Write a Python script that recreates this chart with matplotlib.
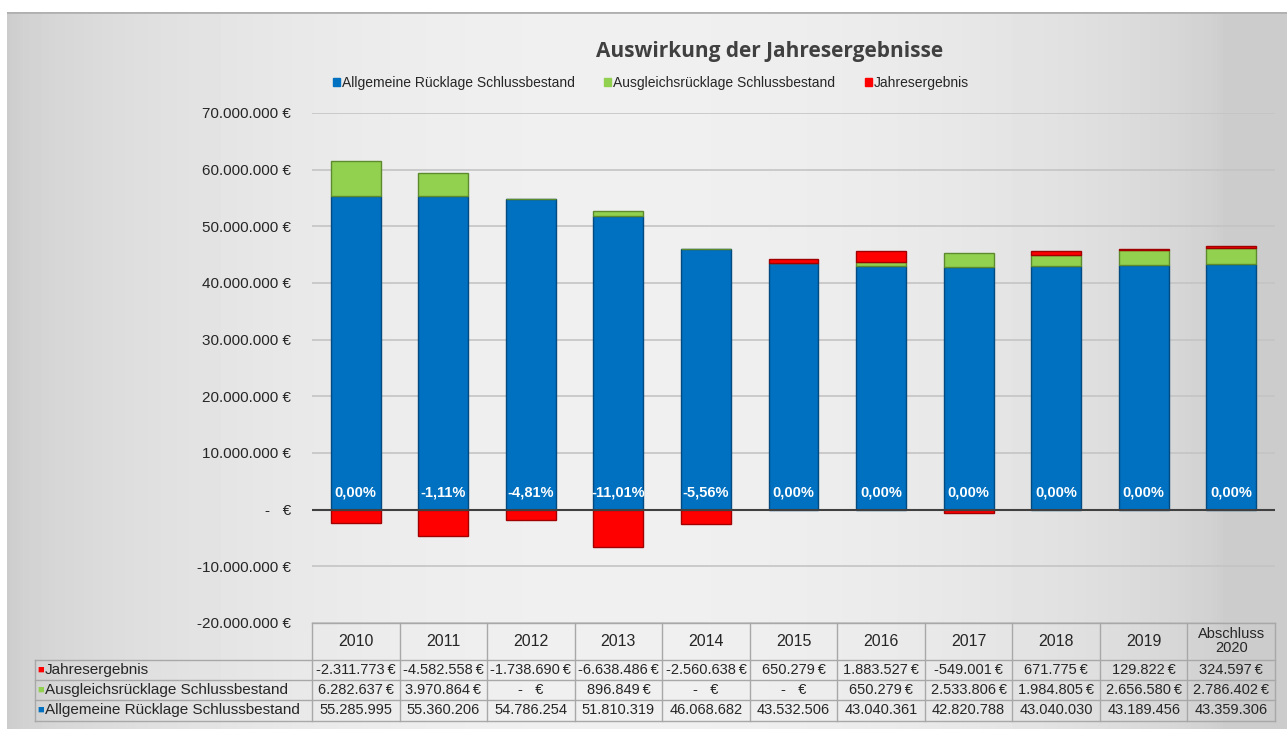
import numpy as np
import matplotlib.pyplot as plt
from matplotlib.patches import Patch
from matplotlib.lines import Line2D
from matplotlib.ticker import FuncFormatter, MultipleLocator

plt.rcParams['font.family'] = ['Liberation Sans', 'DejaVu Sans']

years = ['2010', '2011', '2012', '2013', '2014', '2015', '2016', '2017',
         '2018', '2019', 'Abschluss\n2020']
allgemeine = [55285995, 55360206, 54786254, 51810319, 46068682, 43532506,
              43040361, 42820788, 43040030, 43189456, 43359306]
ausgleich = [6282637, 3970864, 0, 896849, 0, 0,
             650279, 2533806, 1984805, 2656580, 2786402]
ergebnis = [-2311773, -4582558, -1738690, -6638486, -2560638, 650279,
            1883527, -549001, 671775, 129822, 324597]
prozent = ['0,00%', '-1,11%', '-4,81%', '-11,01%', '-5,56%', '0,00%',
           '0,00%', '0,00%', '0,00%', '0,00%', '0,00%']

BLUE, GREEN, RED = '#0070C0', '#92D050', '#FF0000'
W, H = 1287, 729


def de(v):
    return f'{v:,.0f}'.replace(',', '.')


def euro(v, sp=' '):
    return '-   €' if v == 0 else de(v) + sp + '€'


fig = plt.figure(figsize=(W / 100, H / 100), dpi=100)

# grey gradient background
bg = fig.add_axes([7 / W, 0, 1 - 7 / W, 1 - 12 / H], zorder=-10)
xs = np.linspace(0, 1, 400)
shade = 0.80 + 0.14 * np.sin(np.pi * np.clip(xs * 1.05, 0, 1)) ** 0.6
bg.imshow(np.tile(shade, (10, 1)), cmap='gray', vmin=0, vmax=1,
          aspect='auto', extent=[0, 1, 0, 1])
bg.axhline(1, color='#b0b0b0', lw=2)
bg.axis('off')

left, right = 312 / W, 1275 / W
ax = fig.add_axes([left, 1 - 623 / H, right - left, (623 - 113) / H])
ax.set_facecolor('none')
x = np.arange(len(years))
bw = 0.57

ax.bar(x, allgemeine, bw, color=BLUE, edgecolor='#034a80', lw=1, zorder=3)
base = np.array(allgemeine)
ax.bar(x, ausgleich, bw, bottom=base, color=GREEN, edgecolor='#5e8a2e', lw=1, zorder=3)
top = base + np.array(ausgleich)
erg = np.array(ergebnis)
ax.bar(x, erg, bw, bottom=np.where(erg > 0, top, 0), color=RED,
       edgecolor='#a00000', lw=1, zorder=3)

for i, p in enumerate(prozent):
    ax.annotate(p, (i, 0), xytext=(0, 7), textcoords='offset points',
                ha='center', va='bottom', color='white', fontsize=10.5,
                fontweight='bold', zorder=5)

ax.set_xlim(-0.5, len(years) - 0.5)
ax.set_ylim(-20e6, 70e6)
ax.yaxis.set_major_locator(MultipleLocator(10e6))
ax.yaxis.set_major_formatter(FuncFormatter(lambda v, p: euro(int(round(v)))))
ax.tick_params(axis='y', length=0, labelsize=11, pad=15, colors='#262626')
ax.set_xticks([])
ax.grid(axis='y', color='#c4c4c4', lw=1.2, zorder=0)
ax.axhline(0, color='#404040', lw=1.5, zorder=4)
for s in ax.spines.values():
    s.set_visible(False)

fig.text(770 / W, 1 - 51 / H, 'Auswirkung der Jahresergebnisse',
         ha='center', va='center', fontsize=15, fontweight='bold',
         color='#404040', family=['Open Sans', 'DejaVu Sans'])

handles = [Patch(color=BLUE, label='Allgemeine Rücklage Schlussbestand'),
           Patch(color=GREEN, label='Ausgleichsrücklage Schlussbestand'),
           Patch(color=RED, label='Jahresergebnis')]
fig.legend(handles=handles, loc='center', bbox_to_anchor=(651 / W, 1 - 83 / H),
           ncol=3, frameon=False, fontsize=10, handlelength=0.5,
           handleheight=0.5, handletextpad=0.15, columnspacing=2.1,
           labelcolor='#262626')

# data table below the chart
col_w = (1275 - 312) / len(years)
line_kw = dict(color='#a8a8a8', lw=1, transform=fig.transFigure)
rows_y = [623, 660, 680, 700, 721]
fig.add_artist(Line2D([left, right], [1 - 623 / H] * 2, **line_kw))
for py in rows_y[1:]:
    fig.add_artist(Line2D([35 / W, right], [1 - py / H] * 2, **line_kw))
for i in range(len(years) + 1):
    px = (312 + i * col_w) / W
    fig.add_artist(Line2D([px, px], [1 - 623 / H, 1 - 721 / H], **line_kw))
fig.add_artist(Line2D([35 / W, 35 / W], [1 - 660 / H, 1 - 721 / H], **line_kw))

row_data = [('Jahresergebnis', RED, [euro(v, '\u2009') for v in ergebnis]),
            ('Ausgleichsrücklage Schlussbestand', GREEN,
             [euro(v, '\u2009') for v in ausgleich]),
            ('Allgemeine Rücklage Schlussbestand', BLUE, [de(v) for v in allgemeine])]

for i, y in enumerate(years):
    cx = (312 + (i + 0.5) * col_w) / W
    fig.text(cx, 1 - 641 / H, y, ha='center', va='center',
             fontsize=11.5 if '\n' not in y else 10.5,
             color='#262626', linespacing=1.05)
    for r, (_, _, vals) in enumerate(row_data):
        fig.text(cx, 1 - (670 + 20 * r) / H, vals[i], ha='center', va='center',
                 fontsize=10.5, color='#262626')

for r, (lab, col, _) in enumerate(row_data):
    yy = 1 - (670 + 20 * r) / H
    fig.text(37 / W, yy, '■', ha='left', va='center', fontsize=8, color=col)
    fig.text(45 / W, yy, lab, ha='left', va='center', fontsize=11, color='#262626')

fig.savefig('out.png', dpi=100, facecolor='white')
